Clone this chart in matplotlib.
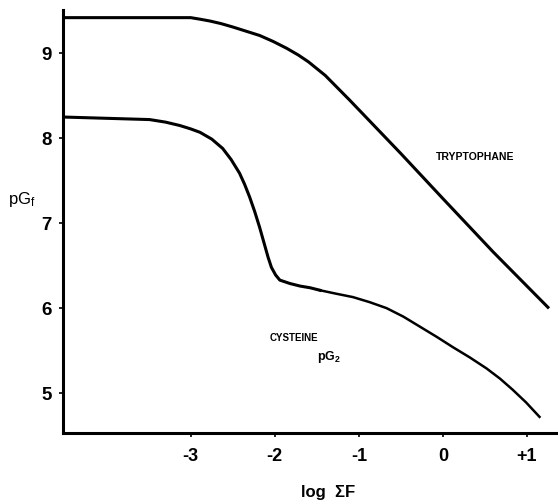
import matplotlib
matplotlib.use("Agg")
import matplotlib.pyplot as plt

plt.rcParams['font.family'] = ['Liberation Sans', 'DejaVu Sans']
plt.rcParams['mathtext.fontset'] = 'custom'
plt.rcParams['mathtext.rm'] = 'Liberation Sans'
plt.rcParams['mathtext.it'] = 'Liberation Sans'
plt.rcParams['mathtext.bf'] = 'Liberation Sans:bold'

# log sum F vs pG for the two amino acids
trp_x = [-4.52, -3.0, -2.88, -2.77, -2.64, -2.5, -2.34, -2.18, -2.02, -1.86,
         -1.72, -1.6, -1.5, -1.4, -1.26, -1.11, -0.5, 0.0, 0.6, 1.25]
trp_y = [9.42, 9.42, 9.40, 9.38, 9.35, 9.31, 9.26, 9.21, 9.14, 9.06,
         8.98, 8.90, 8.82, 8.74, 8.60, 8.45, 7.82, 7.29, 6.66, 6.01]

cys_x = [-4.52, -3.49, -3.30, -3.13, -3.0, -2.89, -2.75, -2.62, -2.52, -2.42,
         -2.36, -2.30, -2.24, -2.18, -2.12, -2.08, -2.04, -1.99, -1.94, -1.82,
         -1.7, -1.58, -1.46, -1.27, -1.07, -0.87, -0.67, -0.47, -0.27, -0.07,
         0.12, 0.32, 0.52, 0.68, 0.83, 0.99, 1.15]
cys_y = [8.25, 8.22, 8.19, 8.15, 8.11, 8.07, 7.99, 7.88, 7.75, 7.59,
         7.46, 7.31, 7.14, 6.95, 6.74, 6.60, 6.48, 6.39, 6.33, 6.29,
         6.26, 6.24, 6.21, 6.17, 6.13, 6.07, 6.0, 5.90, 5.78, 5.66,
         5.54, 5.42, 5.29, 5.17, 5.04, 4.89, 4.72]

xticks = [-3, -2, -1, 0, 1]
xtick_labels = ['-3', '-2', '-1', '0', '+1']
yticks = [5, 6, 7, 8, 9]

fig = plt.figure(figsize=(5.58, 5.04), dpi=100)
ax = fig.add_axes([63 / 558, 71 / 504, 495 / 558, 423 / 504])

ax.plot(trp_x, trp_y, color='black', lw=2.2, solid_joinstyle='round')
ax.plot(cys_x[:23], cys_y[:23], color='black', lw=2.2, solid_joinstyle='round')
ax.plot(cys_x[22:], cys_y[22:], color='black', lw=1.8, solid_joinstyle='round')

ax.set_xlim(-4.52, 1.37)
ax.set_ylim(4.53, 9.51)

for side in ['top', 'right']:
    ax.spines[side].set_visible(False)
for side in ['left', 'bottom']:
    ax.spines[side].set_linewidth(2.2)

ax.set_xticks(xticks)
ax.set_xticklabels(xtick_labels, fontsize=13, fontweight='bold')
ax.set_yticks(yticks)
ax.set_yticklabels([str(v) for v in yticks], fontsize=13.5, fontweight='bold')
ax.tick_params(axis='both', direction='out', length=3, width=1.2, pad=5)
ax.tick_params(axis='x', pad=8)

ax.text(0.38, 7.78, 'TRYPTOPHANE', fontsize=7.5, fontweight='bold', ha='center', va='center')
ax.text(-1.77, 5.65, 'CYSTEINE', fontsize=7, fontweight='bold', ha='center', va='center')
ax.text(-1.35, 5.42, r'$\mathbf{pG_2}$', fontsize=9, ha='center', va='center')

fig.text(22 / 558, 1 - 200 / 504, r'$\mathrm{pG_f}$', fontsize=12, ha='center', va='center')
fig.text(328 / 558, 1 - 493 / 504, 'log  ΣF', fontsize=12, fontweight='bold', ha='center', va='center')

fig.savefig('out.png', dpi=100)
